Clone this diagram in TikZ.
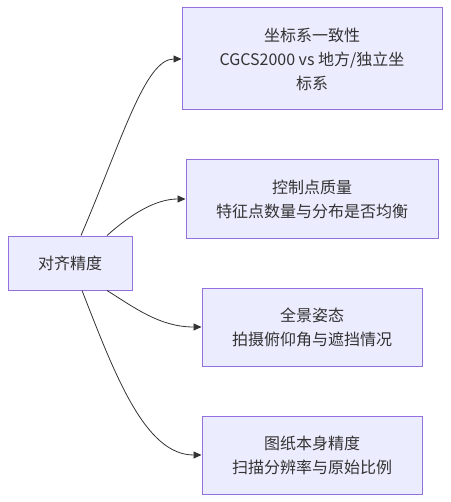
\documentclass[tikz,border=0pt]{standalone}
\usepackage{fontspec}
\setmainfont{Noto Sans CJK SC}
\usepackage{xcolor}
\usetikzlibrary{arrows.meta}
\definecolor{boxfill}{HTML}{ECECFF}
\definecolor{boxline}{HTML}{9370DB}
\definecolor{ink}{HTML}{333333}

\begin{document}
\begin{tikzpicture}[x=1pt, y=-1pt,
    box/.style={draw=boxline, fill=boxfill, line width=1pt, align=center,
      text=ink, inner sep=0pt, font=\fontsize{16}{24}\selectfont},
    link/.style={draw=ink, line width=0.8pt, -{Triangle[length=8pt,width=7pt]}}]
    \useasboundingbox (0,0) rectangle (450,502);
    \node[box, minimum width=124pt, minimum height=54pt] (r) at (70,263) {对齐精度};
    \node[box, minimum width=260pt, minimum height=102pt] (a) at (312,59)
      {坐标系一致性\\CGCS2000 vs 地方/独立坐\\标系};
    \node[box, minimum width=252pt, minimum height=78pt] (b) at (312,199)
      {控制点质量\\特征点数量与分布是否均衡};
    \node[box, minimum width=220pt, minimum height=78pt] (c) at (312,327)
      {全景姿态\\拍摄俯仰角与遮挡情况};
    \node[box, minimum width=220pt, minimum height=78pt] (d) at (312,455)
      {图纸本身精度\\扫描分辨率与原始比例};
    \draw [link] ([xshift=11pt]r.north) .. controls (122,140) and (145,59) .. (a.west);
    \draw [link] ([xshift=37pt]r.north) .. controls (130,215) and (155,199) .. (b.west);
    \draw [link] ([xshift=37pt]r.south) .. controls (135,308) and (160,327) .. (c.west);
    \draw [link] ([xshift=12pt]r.south) .. controls (115,375) and (145,455) .. (d.west);
  \end{tikzpicture}
\end{document}
